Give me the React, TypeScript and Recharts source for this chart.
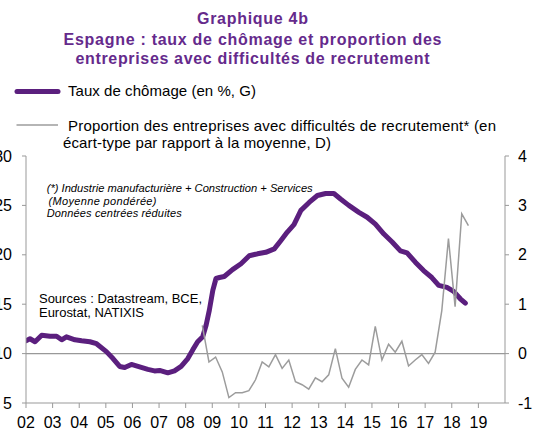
import React from "react";
import {
  ComposedChart, Line, XAxis, YAxis, ReferenceLine,
} from "recharts";

// Taux de chômage (%, axe gauche)
const UNEMP_YEARS = [
  2002.0, 2002.15, 2002.34, 2002.59, 2002.9, 2003.15, 2003.34, 2003.52, 2003.84, 2004.09,
  2004.4, 2004.65, 2005.02, 2005.27, 2005.52, 2005.71, 2005.96, 2006.27, 2006.58, 2006.83,
  2007.02, 2007.33, 2007.58, 2007.83, 2008.08, 2008.27, 2008.45, 2008.64, 2008.77, 2008.89,
  2009.02, 2009.14, 2009.27, 2009.45, 2009.76, 2010.08, 2010.39, 2010.7, 2011.01, 2011.33,
  2011.58, 2011.82, 2012.07, 2012.33, 2012.64, 2012.95, 2013.26, 2013.57, 2013.82, 2014.13,
  2014.51, 2014.82, 2015.13, 2015.45, 2015.76, 2016.07, 2016.32, 2016.63, 2016.94, 2017.25,
  2017.51, 2017.82, 2018.07, 2018.32, 2018.51,
];
const UNEMP_VALUES = [
  11.3, 11.5, 11.2, 11.85, 11.75, 11.75, 11.4, 11.7, 11.4, 11.3,
  11.2, 11.0, 10.2, 9.5, 8.7, 8.6, 8.9, 8.65, 8.4, 8.25,
  8.3, 8.05, 8.25, 8.7, 9.5, 10.4, 11.2, 11.7, 12.9, 14.4,
  16.4, 17.6, 17.7, 17.8, 18.5, 19.1, 19.9, 20.1, 20.25, 20.6,
  21.45, 22.3, 23.05, 24.5, 25.3, 26.0, 26.2, 26.2, 25.65, 25.0,
  24.3, 23.8, 23.1, 22.1, 21.3, 20.4, 20.2, 19.25, 18.4, 17.7,
  16.9, 16.7, 16.3, 15.55, 15.1,
];

// Difficultés de recrutement (écart-type, axe droit), trimestriel
const RECRUIT_YEARS = [
  2008.625, 2008.875, 2009.125, 2009.375, 2009.625, 2009.875, 2010.125, 2010.375, 2010.625, 2010.875,
  2011.125, 2011.375, 2011.625, 2011.875, 2012.125, 2012.375, 2012.625, 2012.875, 2013.125, 2013.375,
  2013.625, 2013.875, 2014.125, 2014.375, 2014.625, 2014.875, 2015.125, 2015.375, 2015.625, 2015.875,
  2016.125, 2016.375, 2016.625, 2016.875, 2017.125, 2017.375, 2017.625, 2017.875, 2018.125, 2018.375,
  2018.625,
];
const RECRUIT_VALUES = [
  0.57, -0.17, -0.07, -0.37, -0.89, -0.79, -0.79, -0.75, -0.53, -0.17,
  -0.27, -0.02, -0.3, -0.13, -0.57, -0.63, -0.72, -0.49, -0.57, -0.43,
  0.1, -0.5, -0.68, -0.32, -0.13, -0.23, 0.55, -0.13, 0.19, 0.03,
  0.25, -0.25, -0.13, -0.02, -0.2, 0.03, 0.87, 2.33, 0.95, 2.83,
  2.59,
];

const YEAR_TICKS = [
  2002, 2003, 2004, 2005, 2006, 2007, 2008, 2009, 2010, 2011,
  2012, 2013, 2014, 2015, 2016, 2017, 2018, 2019,
];
const LEFT_TICKS = [5, 10, 15, 20, 25, 30];
const RIGHT_TICKS = [-1, 0, 1, 2, 3, 4];

const unempData = UNEMP_YEARS.map((year, i) => ({ year, v: UNEMP_VALUES[i] }));
const recruitData = RECRUIT_YEARS.map((year, i) => ({ year, v: RECRUIT_VALUES[i] }));

const PURPLE = "#5b1f7e";
const TITLE = "#652a8c";
const GREY = "#9c9c9c";
const AXIS = "#999999";
const FONT = "'Liberation Sans', Arial, sans-serif";

export default function App() {
  const tick = { fill: "#000", fontSize: 16, fontFamily: FONT };
  return (
    <div style={{ position: "absolute", left: 0, top: 0, width: 533, height: 430, background: "#fff" }}>
      <ComposedChart
        width={533}
        height={430}
        margin={{ top: 156, right: 0, bottom: 0, left: 0 }}
        style={{ position: "absolute", left: 0, top: 0 }}
      >
        <XAxis
          type="number"
          dataKey="year"
          domain={[2002, 2020]}
          ticks={YEAR_TICKS}
          allowDataOverflow
          tickFormatter={(y: number) => String(y % 100).padStart(2, "0")}
          height={27}
          stroke={AXIS}
          tickSize={5}
          tickMargin={9}
          tick={tick}
          interval={0}
        />
        <YAxis
          yAxisId="left"
          domain={[5, 30]}
          ticks={LEFT_TICKS}
          width={26}
          stroke={AXIS}
          tickSize={4}
          tickMargin={10}
          tick={tick}
          interval={0}
        />
        <YAxis
          yAxisId="right"
          orientation="right"
          domain={[-1, 4]}
          ticks={RIGHT_TICKS}
          width={28}
          stroke={AXIS}
          tickSize={4}
          tickMargin={9}
          tick={tick}
          interval={0}
        />
        <ReferenceLine yAxisId="right" y={0} stroke={AXIS} strokeWidth={1.3} />
        <Line
          yAxisId="left"
          data={unempData}
          dataKey="v"
          type="linear"
          stroke={PURPLE}
          strokeWidth={5}
          strokeLinecap="round"
          strokeLinejoin="round"
          dot={false}
          activeDot={false}
          isAnimationActive={false}
        />
        <Line
          yAxisId="right"
          data={recruitData}
          dataKey="v"
          type="linear"
          stroke={GREY}
          strokeWidth={1.5}
          dot={false}
          activeDot={false}
          isAnimationActive={false}
        />
      </ComposedChart>

      <svg
        width={533}
        height={430}
        style={{ position: "absolute", left: 0, top: 0, pointerEvents: "none" }}
        fontFamily={FONT}
      >
        <g fill={TITLE} fontSize={16} fontWeight="bold" textAnchor="middle">
          <text x={252.5} y={24} textLength={111} lengthAdjust="spacing">Graphique 4b</text>
          <text x={252.5} y={45} textLength={378} lengthAdjust="spacing">
            Espagne : taux de chômage et proportion des
          </text>
          <text x={252.5} y={64} textLength={354} lengthAdjust="spacing">
            entreprises avec difficultés de recrutement
          </text>
        </g>

        <line x1={17} y1={91.5} x2={58} y2={91.5} stroke={PURPLE} strokeWidth={5} strokeLinecap="round" />
        <text x={68} y={96} fontSize={15} fill="#000" textLength={188} lengthAdjust="spacing">
          Taux de chômage (en %, G)
        </text>

        <line x1={16.5} y1={125} x2={58} y2={125} stroke={GREY} strokeWidth={1.5} />
        <text x={68} y={131} fontSize={15} fill="#000" textLength={428} lengthAdjust="spacing">
          Proportion des entreprises avec difficultés de recrutement* (en
        </text>
        <text x={63} y={148} fontSize={15} fill="#000" textLength={268} lengthAdjust="spacing">
          écart-type par rapport à la moyenne, D)
        </text>

        <g fontSize={11} fontStyle="italic" fill="#000">
          <text x={46.7} y={192.3} textLength={266} lengthAdjust="spacingAndGlyphs">
            (*) Industrie manufacturière + Construction + Services
          </text>
          <text x={48.5} y={205} textLength={108} lengthAdjust="spacing">(Moyenne pondérée)</text>
          <text x={46.7} y={217.3} textLength={135} lengthAdjust="spacing">Données centrées réduites</text>
        </g>

        <g fontSize={13} fill="#000">
          <text x={39} y={303.3} textLength={163} lengthAdjust="spacing">Sources : Datastream, BCE,</text>
          <text x={39} y={317.3} textLength={105} lengthAdjust="spacing">Eurostat, NATIXIS</text>
        </g>
      </svg>
    </div>
  );
}
